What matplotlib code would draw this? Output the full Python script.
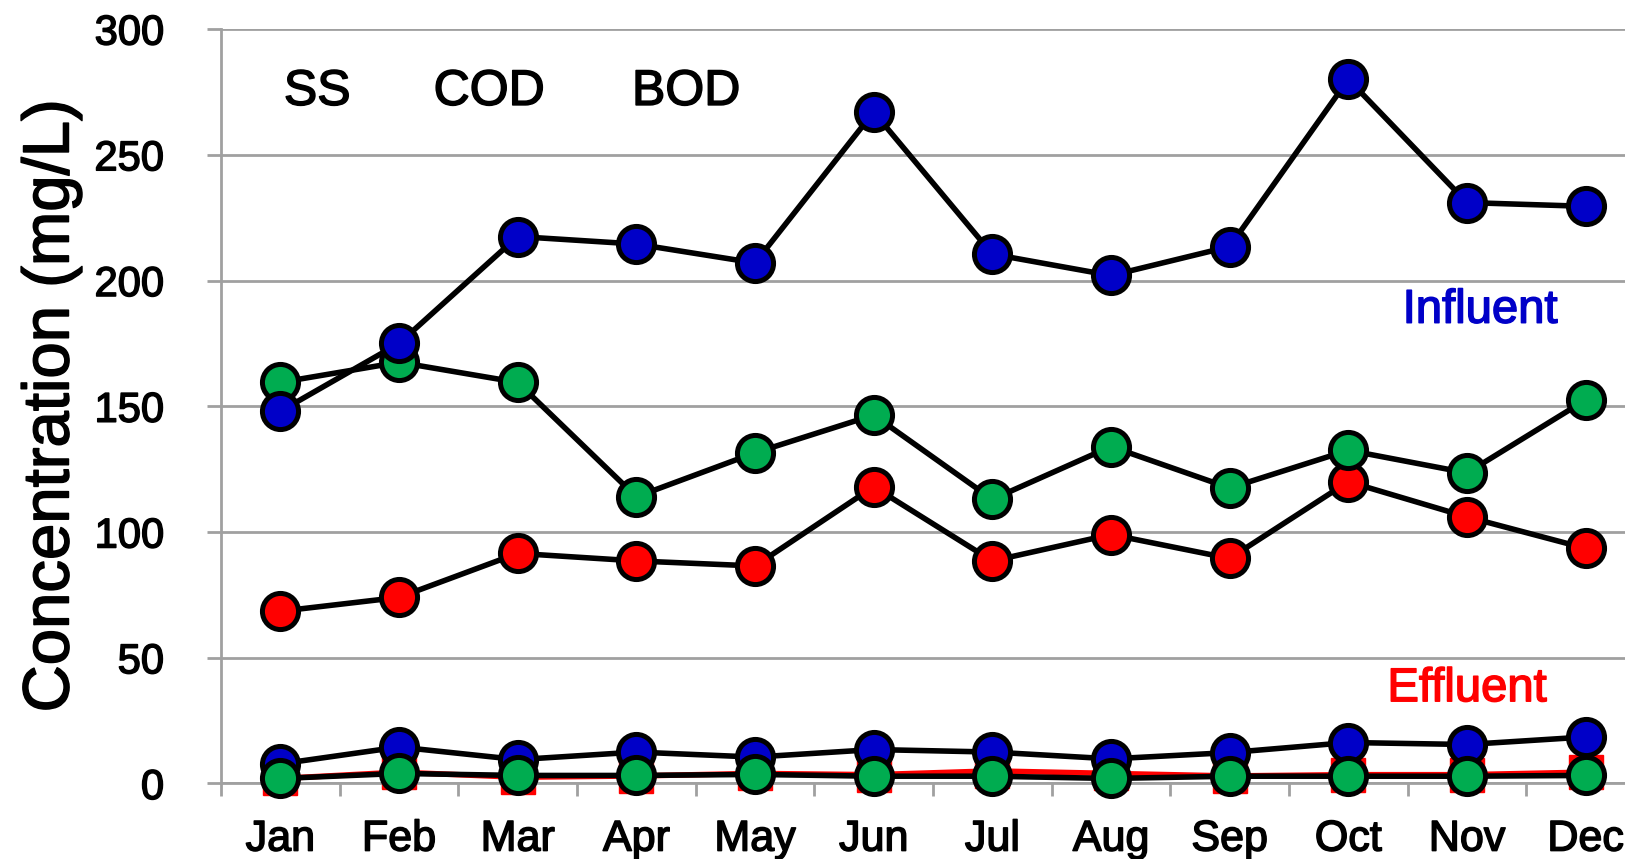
import numpy as np
import matplotlib
matplotlib.use("Agg")
import matplotlib.pyplot as plt
import matplotlib.patheffects as pe

plt.rcParams["font.family"] = ["Liberation Sans", "DejaVu Sans"]

BLUE = "#0000C8"
GREEN = "#00AC50"
RED = "#FF0000"
GRID = "#A0A0A0"

months = ["Jan", "Feb", "Mar", "Apr", "May", "Jun",
          "Jul", "Aug", "Sep", "Oct", "Nov", "Dec"]

# influent
inf_blue = [148, 175, 217.5, 214.5, 207, 267, 210.5, 202, 213.5, 280, 231, 229.5]
inf_green = [159.5, 167.5, 159.5, 114, 131.5, 146.5, 113, 134, 117.5, 132.5, 123.5, 152.5]
inf_red = [68.5, 74, 91.5, 88.5, 86.5, 118, 88.5, 99, 89.5, 120, 106, 93.5]

# effluent
eff_blue = [7.8, 14.5, 9.5, 12.5, 10.5, 13.5, 12.5, 9.8, 12.3, 16.3, 15.5, 18.5]
eff_green = [2.0, 4.0, 3.2, 3.2, 3.6, 2.9, 2.9, 2.0, 2.9, 2.9, 2.9, 3.2]
eff_red = [2.0, 4.5, 2.5, 3.0, 4.0, 3.5, 5.0, 4.0, 3.0, 3.5, 3.5, 4.5]

x = np.arange(len(months))

fig = plt.figure(figsize=(16.25, 8.59), dpi=100)
ax = fig.add_axes([0.136, 0.0879, 0.8763, 0.8783])

MS = 26
LW = 4.0
EW = 3.6


def circ(vals, color, z):
    ax.plot(x, vals, "-o", color="black", linewidth=LW, markersize=MS,
            markerfacecolor=color, markeredgecolor="black",
            markeredgewidth=EW, zorder=z, clip_on=False)


circ(inf_red, RED, 3)
circ(inf_green, GREEN, 4)
circ(inf_blue, BLUE, 5)

ax.plot(x, eff_red, "-s", color=RED, linewidth=LW, markersize=24,
        markerfacecolor=RED, markeredgecolor=RED, zorder=6, clip_on=False)
circ(eff_blue, BLUE, 7)
circ(eff_green, GREEN, 8)

ax.set_xlim(-0.5, 11.5)
ax.set_ylim(0, 300)
ax.set_yticks(np.arange(0, 301, 50))
ax.set_xticks(x)
ax.set_xticklabels(months)
ax.set_xticks(np.arange(-0.5, 12, 1), minor=True)

ax.yaxis.grid(True, color=GRID, linewidth=2)
ax.set_axisbelow(True)

for s in ["top", "right"]:
    ax.spines[s].set_visible(False)
for s in ["left", "bottom"]:
    ax.spines[s].set_color(GRID)
    ax.spines[s].set_linewidth(2)

ax.tick_params(axis="x", which="major", length=0, pad=26, labelsize=31)
ax.tick_params(axis="x", which="minor", length=9, width=2, color=GRID)
ax.tick_params(axis="y", length=10, width=2, color=GRID, pad=31, labelsize=30)

ax.set_ylabel("Concentration (mg/L)", fontsize=47)
ax.yaxis.set_label_coords(-0.098, 0.5)


def thick(t, color="black"):
    t.set_path_effects([pe.withStroke(linewidth=1.1, foreground=color)])


for t in ax.get_xticklabels() + ax.get_yticklabels():
    thick(t)
thick(ax.yaxis.label)

for lbl, xp in [("SS", 0.31), ("COD", 1.76), ("BOD", 3.42)]:
    thick(ax.text(xp, 275, lbl, fontsize=36, ha="center", va="center"))
thick(ax.text(10.11, 188, "Influent", fontsize=34, color=BLUE,
              ha="center", va="center"), BLUE)
thick(ax.text(10.0, 37.5, "Effluent", fontsize=34, color=RED,
              ha="center", va="center"), RED)

fig.savefig("out.png", dpi=100)
